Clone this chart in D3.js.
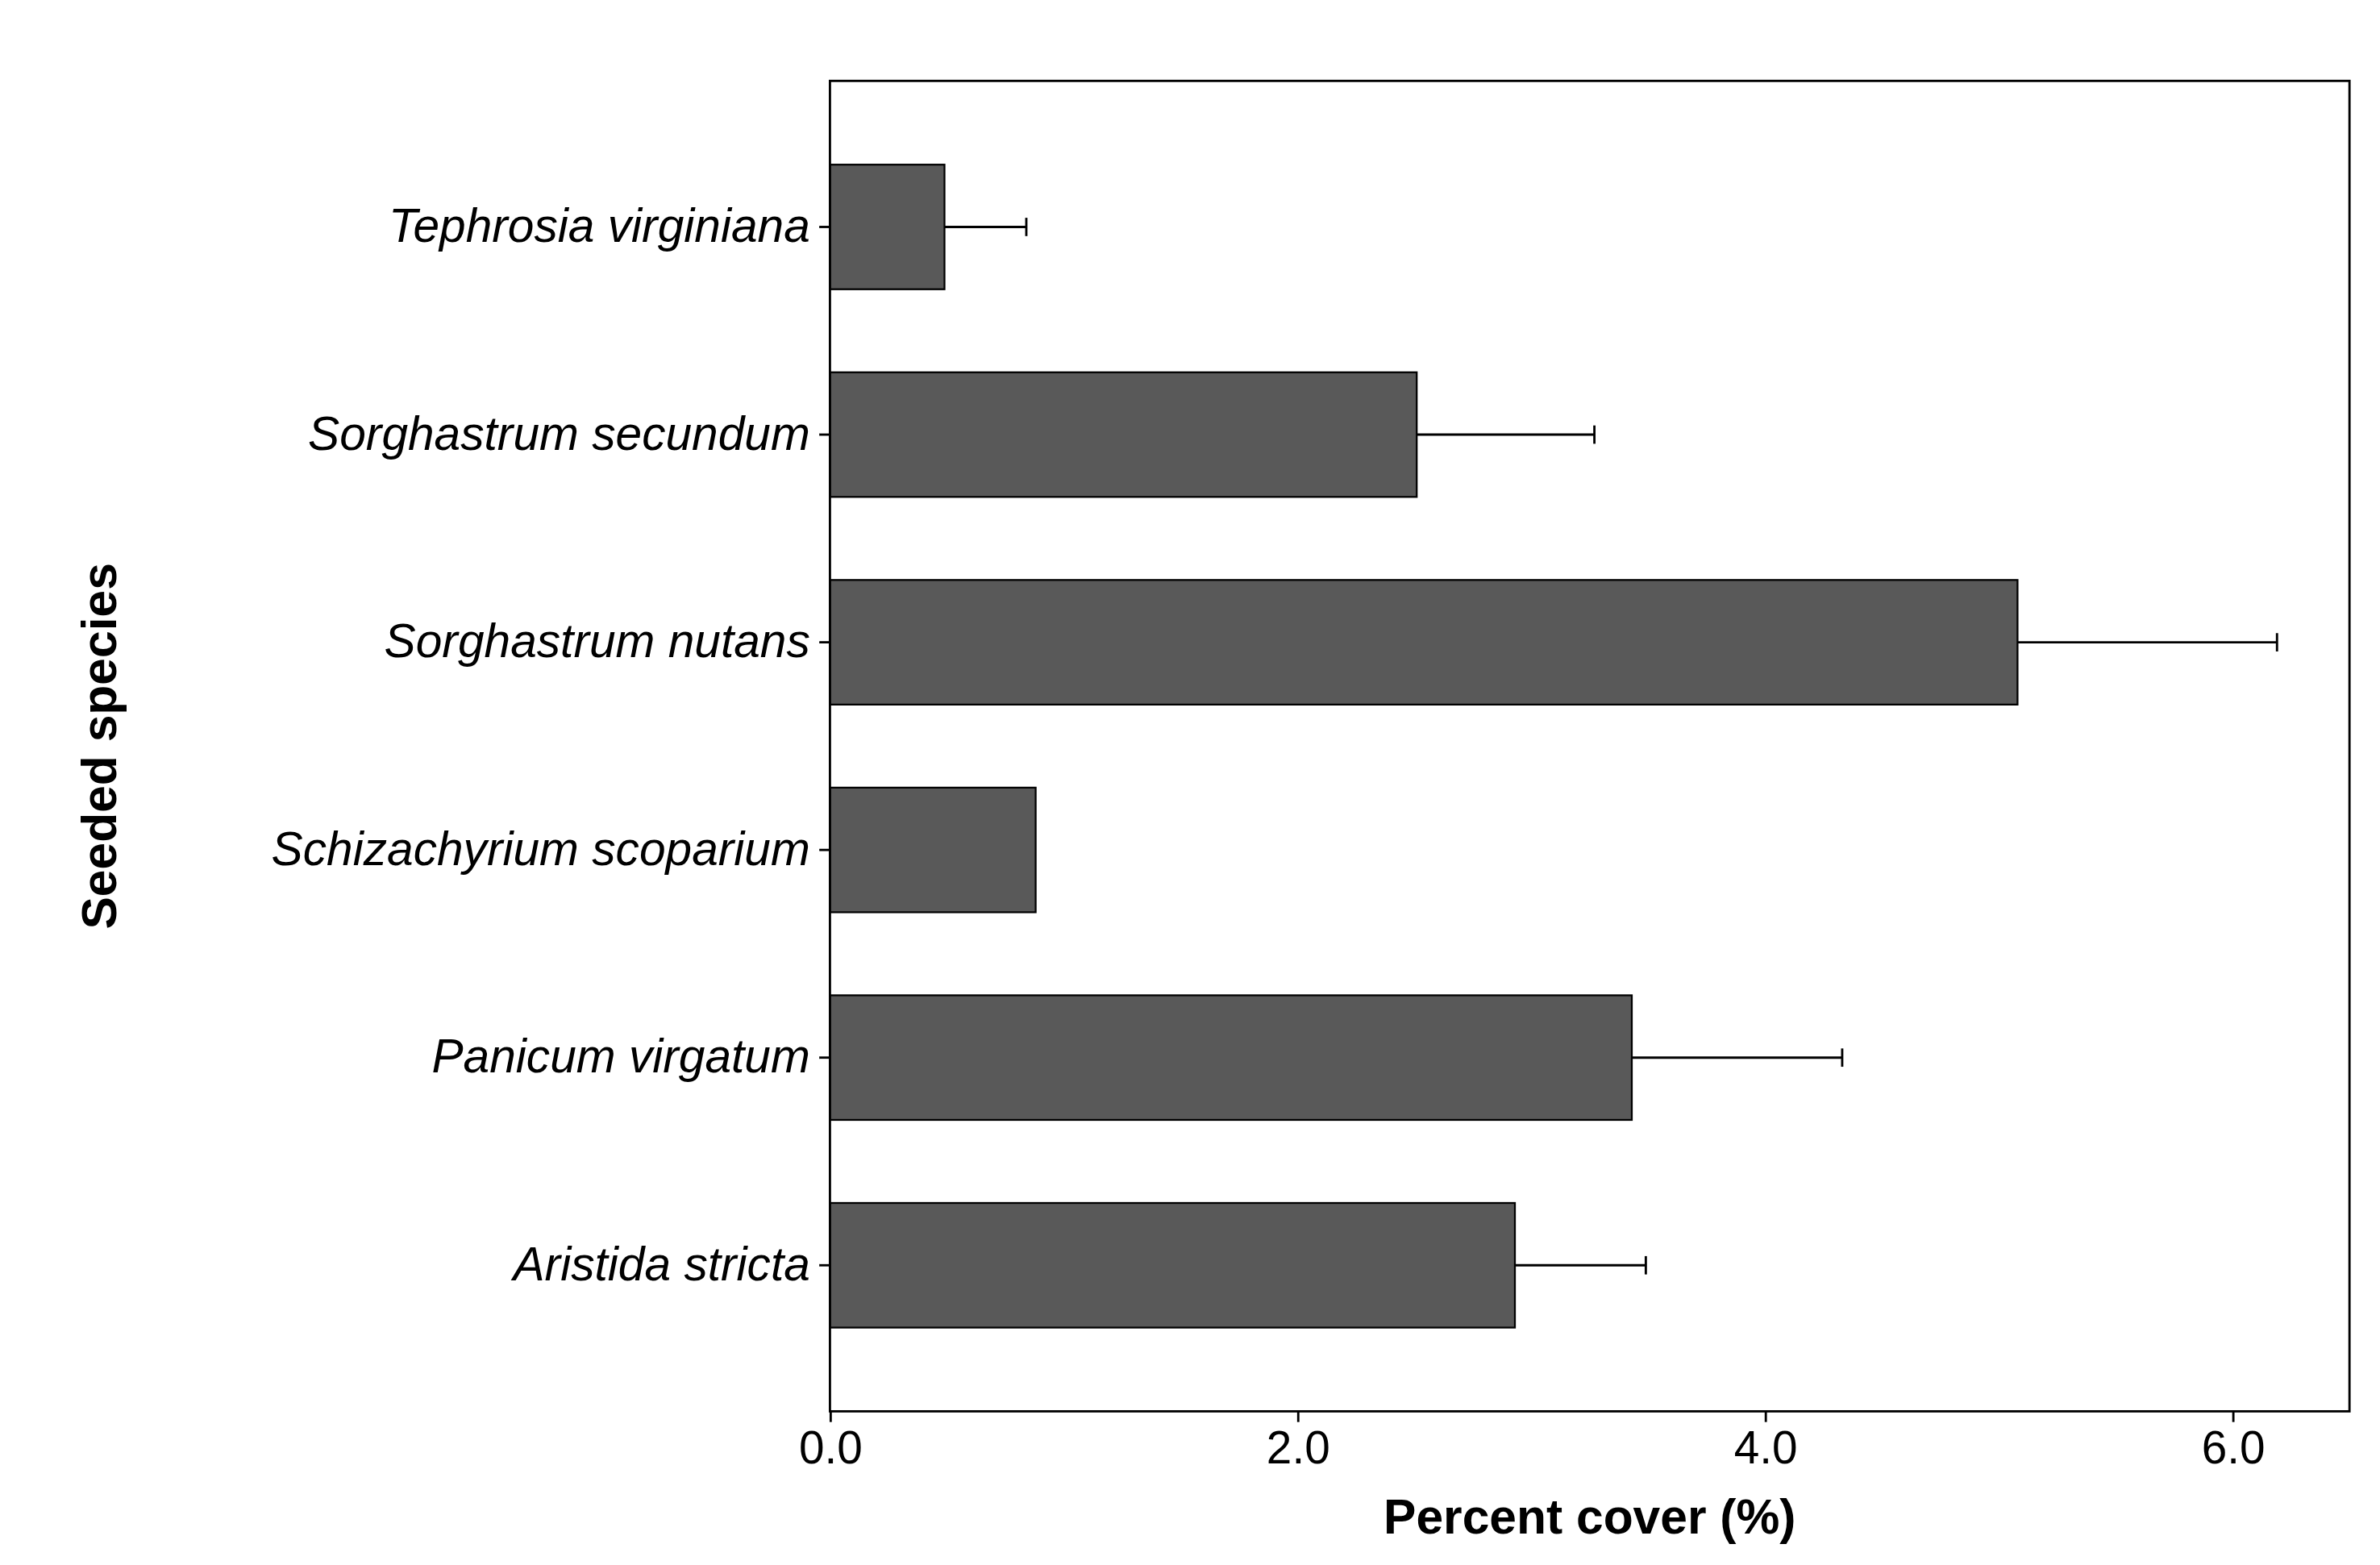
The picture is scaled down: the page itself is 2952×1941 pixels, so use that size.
<!DOCTYPE html>
<html><head><meta charset="utf-8">
<script src="https://cdn.jsdelivr.net/npm/d3@7"></script>
<style>body{margin:0;background:#fff}</style>
</head><body>
<div id="chart"></div>
<script>
// data
var species = ["Tephrosia virginiana","Sorghastrum secundum","Sorghastrum nutans","Schizachyrium scoparium","Panicum virgatum","Aristida stricta"];
var cover = [0.49, 2.51, 5.08, 0.88, 3.43, 2.93];
var upper = [0.84, 3.27, 6.19, 0.88, 4.33, 3.49];
var xTicks = [0, 2, 4, 6];

var W = 1560, H = 1025.7;
var margin = { top: 53, right: 20, bottom: 100, left: 544 };
var plotW = W - margin.left - margin.right;
var plotH = 925 - margin.top;

var svg = d3.select('#chart').append('svg')
  .attr('width', 2952).attr('height', 1941)
  .attr('viewBox', `0 0 ${W} ${H}`);
var g = svg.append('g').attr('transform', `translate(${margin.left},${margin.top})`);

var x = d3.scaleLinear().domain([0, 6.5]).range([0, plotW]);
// ggplot style discrete expansion 0.6 each side
var step = plotH / 6.2;
var y = d3.scaleBand().domain(species).range([0.1 * step, plotH - 0.1 * step]).paddingInner(0.4).paddingOuter(0.3);

g.selectAll('.bar').data(species).join('rect')
  .attr('x', x(0)).attr('y', d => y(d))
  .attr('width', (d, i) => x(cover[i]) - x(0))
  .attr('height', y.bandwidth())
  .attr('fill', '#595959').attr('stroke', '#000').attr('stroke-width', 1.2);

var cap = 6;
species.forEach(function (d, i) {
  if (upper[i] <= cover[i]) return;
  var cy = y(d) + y.bandwidth() / 2;
  g.append('line').attr('x1', x(cover[i])).attr('x2', x(upper[i]))
    .attr('y1', cy).attr('y2', cy).attr('stroke', '#000').attr('stroke-width', 1.5);
  g.append('line').attr('x1', x(upper[i])).attr('x2', x(upper[i]))
    .attr('y1', cy - cap).attr('y2', cy + cap).attr('stroke', '#000').attr('stroke-width', 1.5);
});

// panel border
g.append('rect').attr('width', plotW).attr('height', plotH)
  .attr('fill', 'none').attr('stroke', '#000').attr('stroke-width', 1.5);

var xAxis = g.append('g').attr('transform', `translate(0,${plotH})`)
  .call(d3.axisBottom(x).tickValues(xTicks).tickSize(7).tickPadding(6));
xAxis.select('.domain').remove();
xAxis.selectAll('text').attr('font-family', 'Liberation Sans, Arial').attr('font-size', 30).attr('fill', '#000');
xAxis.selectAll('line').attr('stroke-width', 1.5);

var yAxis = g.append('g')
  .call(d3.axisLeft(y).tickSize(7).tickPadding(6));
yAxis.select('.domain').remove();
yAxis.selectAll('text').attr('font-family', 'Liberation Sans, Arial').attr('font-size', 31)
  .attr('font-style', 'italic').attr('fill', '#000');
yAxis.selectAll('line').attr('stroke-width', 1.5);

svg.append('text').attr('x', margin.left + plotW / 2).attr('y', 1005)
  .attr('text-anchor', 'middle').attr('font-family', 'Liberation Sans, Arial')
  .attr('font-weight', 'bold').attr('font-size', 32).text('Percent cover (%)');
svg.append('text').attr('transform', `translate(76,${margin.top + plotH / 2}) rotate(-90)`)
  .attr('text-anchor', 'middle').attr('font-family', 'Liberation Sans, Arial')
  .attr('font-weight', 'bold').attr('font-size', 32).text('Seeded species');
</script>
</body></html>
